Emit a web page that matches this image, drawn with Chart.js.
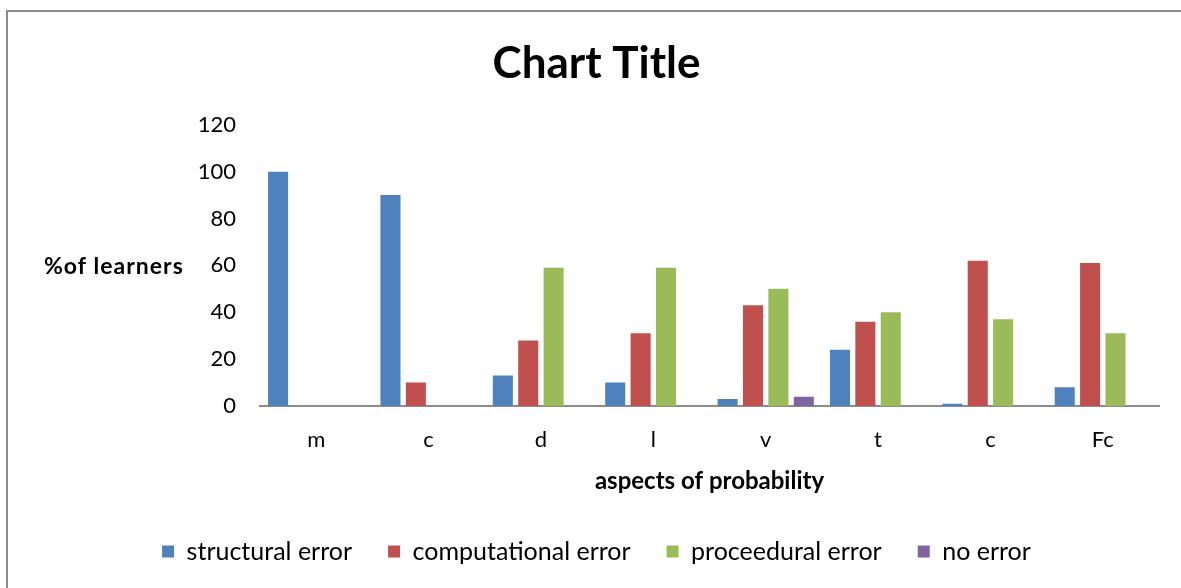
<!DOCTYPE html>
<html>
<head>
<meta charset="utf-8">
<script src="https://cdn.jsdelivr.net/npm/chart.js@4/dist/chart.umd.min.js"></script>
<style>
  html, body { margin: 0; padding: 0; background: #fff; }
  #wrap { position: relative; width: 1181px; height: 588px; overflow: hidden; }
  #frame { position: absolute; left: 6px; top: 10px; width: 1300px; height: 700px;
           border-left: 2px solid #8c8c8c; border-top: 2px solid #8c8c8c; box-sizing: border-box; }
  canvas { position: absolute; left: 0; top: 0; }
</style>
</head>
<body>
<div id="wrap">
  <div id="frame"></div>
  <canvas id="c" width="1181" height="588"></canvas>
</div>
<script>
const categories = ['m', 'c', 'd', 'l', 'v', 't', 'c', 'Fc'];
const structuralError = [100, 90, 13, 10, 3, 24, 1, 8];
const computationalError = [null, 10, 28, 31, 43, 36, 62, 61];
const proceeduralError = [null, null, 59, 59, 50, 40, 37, 31];
const noError = [null, null, null, null, 4, null, null, null];
const yTicks = [0, 20, 40, 60, 80, 100, 120];

const FONT = 'Lato, "Open Sans", sans-serif';

const yTitlePlugin = {
  id: 'yTitle',
  afterDraw(chart) {
    const ctx = chart.ctx;
    const area = chart.chartArea;
    ctx.save();
    ctx.font = 'bold 23px ' + FONT;
    if ('letterSpacing' in ctx) ctx.letterSpacing = '1px';
    ctx.fillStyle = '#000';
    ctx.textAlign = 'left';
    ctx.textBaseline = 'middle';
    ctx.fillText('%of learners', 44, (area.top + area.bottom) / 2 + 1);
    ctx.restore();
  }
};

new Chart(document.getElementById('c'), {
  type: 'bar',
  data: {
    labels: categories,
    datasets: [
      { label: 'structural error', data: structuralError, backgroundColor: '#4F81BD' },
      { label: 'computational error', data: computationalError, backgroundColor: '#C0504D' },
      { label: 'proceedural error', data: proceeduralError, backgroundColor: '#9BBB59' },
      { label: 'no error', data: noError, backgroundColor: '#8064A2' }
    ]
  },
  options: {
    responsive: false,
    animation: false,
    devicePixelRatio: 1,
    datasets: { bar: { categoryPercentage: 0.904, barPercentage: 0.79 } },
    layout: { padding: { left: 34, right: 22, top: 0, bottom: 14 } },
    plugins: {
      title: {
        display: true,
        text: 'Chart Title',
        color: '#000',
        font: { family: FONT, size: 44, weight: 'bold' },
        padding: { top: 37, bottom: 35 }
      },
      legend: {
        display: true,
        position: 'bottom',
        labels: {
          color: '#000',
          font: { family: FONT, size: 25 },
          boxWidth: 12, boxHeight: 12,
          padding: 36
        }
      },
      tooltip: { enabled: false }
    },
    scales: {
      x: {
        grid: { display: false, drawTicks: false },
        border: { display: true, color: '#8c8c8c', width: 2 },
        ticks: { color: '#000', font: { family: FONT, size: 22, lineHeight: 1.0 }, padding: 23 },
        title: {
          display: true,
          text: 'aspects of probability',
          color: '#000',
          font: { family: FONT, size: 24, weight: 'bold', lineHeight: 1.0 },
          padding: { top: -5, bottom: 10 }
        }
      },
      y: {
        min: 0, max: 120,
        afterFit(scale) { scale.width = 226; },
        afterBuildTicks(scale) { scale.ticks = yTicks.map(v => ({ value: v })); },
        grid: { display: false, drawTicks: false },
        border: { display: false },
        ticks: { color: '#000', font: { family: FONT, size: 22 }, padding: 24 }
      }
    }
  },
  plugins: [yTitlePlugin]
});
</script>
</body>
</html>
